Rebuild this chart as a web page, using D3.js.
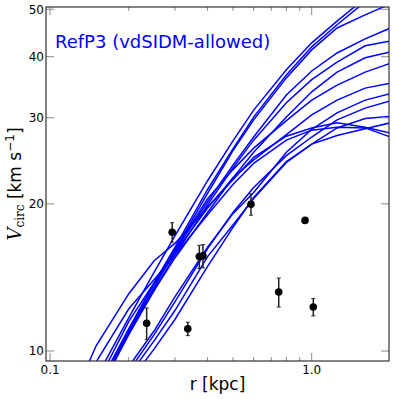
<!DOCTYPE html>
<html>
<head>
<meta charset="utf-8">
<script src="https://cdn.jsdelivr.net/npm/d3@7"></script>
<style>
  body { margin: 0; background: #fff; }
  svg { display: block; font-family: "DejaVu Sans", sans-serif; }
</style>
</head>
<body>
<div id="chart"></div>
<script>
// radii (kpc) at which every model curve is sampled
const radii = [0.13, 0.15, 0.2, 0.25, 0.3, 0.4, 0.5, 0.6, 0.8, 1.0, 1.25, 1.6, 2.0];

// model rotation curves, Vcirc in km/s at the radii above
const curveU1 = [7.6, 8.8, 11.7, 14.5, 17.2, 22.3, 26.9, 31.1, 37.6, 42.7, 47.3, 52.7, 58.0];
const curveU2 = [7.2, 8.3, 11.1, 13.8, 16.3, 21.4, 25.9, 30.1, 36.7, 41.9, 46.5, 51.8, 57.0];
const curveU3 = [7.0, 8.0, 10.9, 13.5, 16.1, 21.0, 25.7, 29.7, 36.2, 41.3, 45.8, 48.7, 51.3];
const curveR1 = [7.0, 8.2, 11.0, 13.5, 16.0, 20.2, 24.0, 27.4, 33.4, 37.4, 40.7, 43.5, 45.8];
const curveR2 = [6.9, 8.1, 10.8, 13.3, 15.7, 19.9, 23.7, 27.0, 32.2, 35.9, 39.0, 42.1, 43.1];
const curveR3 = [7.0, 8.2, 11.0, 13.3, 15.5, 19.2, 22.6, 25.5, 30.1, 33.9, 37.2, 39.8, 40.9];
const curveR4 = [7.2, 8.5, 11.5, 13.8, 16.1, 20.5, 23.5, 26.0, 29.6, 32.6, 35.0, 37.2, 38.8];
const curveR5 = [7.1, 8.3, 11.1, 13.7, 15.9, 19.6, 22.6, 24.6, 27.7, 30.4, 32.6, 34.5, 35.3];
const curveC1 = [8.6, 10.25, 13.1, 15.3, 16.6, 19.7, 22.4, 24.9, 27.5, 28.6, 29.3, 28.7, 27.9];
const curveC2 = [8.0, 9.5, 12.2, 14.0, 15.7, 19.0, 21.9, 24.2, 27.0, 28.3, 28.7, 28.6, 27.4];
const curveL1 = [6.8, 7.4, 9.3, 11.0, 12.9, 16.3, 19.1, 21.1, 25.5, 28.4, 30.7, 32.6, 33.6];
const curveL2 = [6.6, 7.3, 9.1, 10.8, 12.6, 16.2, 19.2, 21.6, 25.1, 27.4, 29.7, 31.4, 32.5];
const curveL3 = [6.4, 7.1, 8.9, 10.5, 12.1, 15.6, 18.1, 20.5, 24.3, 26.5, 28.6, 29.9, 30.2];
const curveL4 = [6.2, 6.9, 8.6, 10.1, 11.6, 14.9, 17.9, 20.6, 24.4, 26.5, 27.6, 28.5, 29.3];

const curves = [curveU1, curveU2, curveU3, curveR1, curveR2, curveR3, curveR4, curveR5,
                curveC1, curveC2, curveL1, curveL2, curveL3, curveL4];

// observed points
const obsR = [0.234, 0.293, 0.336, 0.372, 0.384, 0.586, 0.943, 0.748, 1.014];
const obsV = [11.4, 17.5, 11.1, 15.6, 15.65, 19.96, 18.5, 13.2, 12.3];
const obsErr = [0.85, 0.8, 0.35, 0.85, 0.85, 1.0, 0.2, 0.9, 0.5];

// ticks
const xMajor = [0.1, 1.0];
const xMinor = [0.2, 0.3, 0.4, 0.5, 0.6, 0.7, 0.8, 0.9];
const yMajor = [10, 20, 30, 40, 50];

const W = 394, H = 399;
const pl = 46, pr = 389, pt = 7, pb = 361;

const svg = d3.select('#chart').append('svg')
  .attr('width', W).attr('height', H);

const x = d3.scaleLog().domain([0.0965, 1.974]).range([pl, pr]);
const y = d3.scaleLog().domain([9.54, 50.55]).range([pb, pt]);

svg.append('clipPath').attr('id', 'plotclip')
  .append('rect')
  .attr('x', pl).attr('y', pt)
  .attr('width', pr - pl).attr('height', pb - pt);

// model curves
const line = d3.line()
  .x((d, i) => x(radii[i]))
  .y(d => y(d));

svg.append('g').attr('clip-path', 'url(#plotclip)')
  .selectAll('path')
  .data(curves)
  .enter().append('path')
  .attr('d', line)
  .attr('fill', 'none')
  .attr('stroke', '#0000ff')
  .attr('stroke-width', 1.5);

// observed points with error bars
const obs = obsR.map((r, i) => ({ r: r, v: obsV[i], e: obsErr[i] }));
const pts = svg.append('g');
pts.selectAll('line.err')
  .data(obs).enter().append('line')
  .attr('class', 'err')
  .attr('x1', d => x(d.r)).attr('x2', d => x(d.r))
  .attr('y1', d => y(d.v - d.e)).attr('y2', d => y(d.v + d.e))
  .attr('stroke', '#222').attr('stroke-width', 1.5);
[-1, 1].forEach(s => {
  pts.selectAll('line.cap' + (s > 0 ? 'p' : 'm'))
    .data(obs).enter().append('line')
    .attr('x1', d => x(d.r) - 2).attr('x2', d => x(d.r) + 2)
    .attr('y1', d => y(d.v + s * d.e)).attr('y2', d => y(d.v + s * d.e))
    .attr('stroke', '#222').attr('stroke-width', 1);
});
pts.selectAll('circle')
  .data(obs).enter().append('circle')
  .attr('cx', d => x(d.r)).attr('cy', d => y(d.v))
  .attr('r', 3.8).attr('fill', '#000');

// ticks (inward, all four sides)
const tickCol = '#888';
const tk = svg.append('g').attr('stroke', tickCol).attr('stroke-width', 1);
xMajor.forEach(v => {
  tk.append('line').attr('x1', x(v)).attr('x2', x(v)).attr('y1', pb).attr('y2', pb - 8);
  tk.append('line').attr('x1', x(v)).attr('x2', x(v)).attr('y1', pt).attr('y2', pt + 8);
});
xMinor.forEach(v => {
  tk.append('line').attr('x1', x(v)).attr('x2', x(v)).attr('y1', pb).attr('y2', pb - 4);
  tk.append('line').attr('x1', x(v)).attr('x2', x(v)).attr('y1', pt).attr('y2', pt + 4);
});
yMajor.forEach(v => {
  tk.append('line').attr('x1', pl).attr('x2', pl + 8).attr('y1', y(v)).attr('y2', y(v));
  tk.append('line').attr('x1', pr).attr('x2', pr - 8).attr('y1', y(v)).attr('y2', y(v));
});

// frame
svg.append('rect')
  .attr('x', pl).attr('y', pt)
  .attr('width', pr - pl).attr('height', pb - pt)
  .attr('fill', 'none').attr('stroke', '#333').attr('stroke-width', 1.2);

// tick labels
svg.append('g').selectAll('text')
  .data(xMajor).enter().append('text')
  .attr('x', d => x(d)).attr('y', pb + 13)
  .attr('text-anchor', 'middle')
  .attr('font-size', 12)
  .text(d => d.toFixed(1));

svg.append('g').selectAll('text')
  .data(yMajor).enter().append('text')
  .attr('x', pl - 2).attr('y', d => y(d) + 4.3)
  .attr('text-anchor', 'end')
  .attr('font-size', 12)
  .text(d => d);

// axis labels
svg.append('text')
  .attr('x', (pl + pr) / 2).attr('y', 390)
  .attr('text-anchor', 'middle')
  .attr('font-size', 17)
  .text('r [kpc]');

const yl = svg.append('text')
  .attr('transform', `translate(21,${(pt + pb) / 2}) rotate(-90)`)
  .attr('text-anchor', 'middle')
  .attr('font-size', 17);
yl.append('tspan').attr('font-family', 'DejaVu Serif').attr('font-style', 'italic').attr('font-size', 18).text('V');
yl.append('tspan').attr('font-family', 'DejaVu Serif').attr('font-size', 12).attr('dy', 3).text('circ');
yl.append('tspan').attr('dy', -3).text(' [km s');
yl.append('tspan').attr('font-size', 12).attr('dy', -7).text('\u22121');
yl.append('tspan').attr('dy', 7).text(']');

// panel title
svg.append('text')
  .attr('x', 55).attr('y', 48)
  .attr('fill', '#0000ff')
  .attr('font-size', 18)
  .text('RefP3 (vdSIDM-allowed)');
</script>
</body>
</html>
